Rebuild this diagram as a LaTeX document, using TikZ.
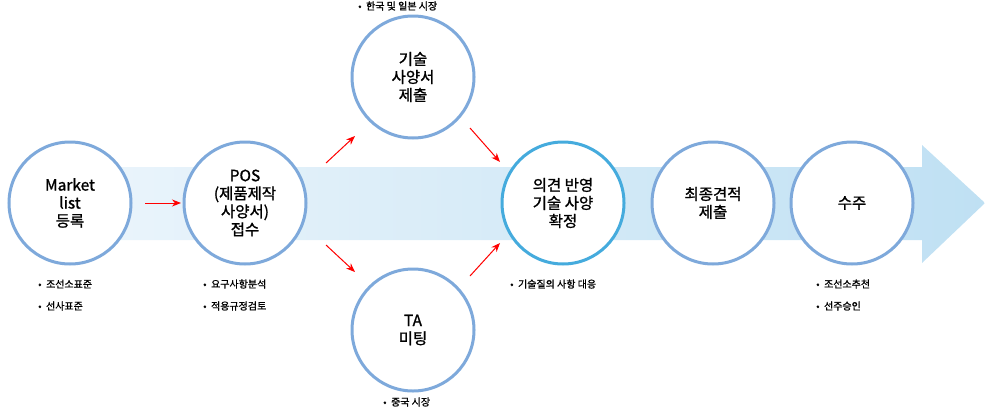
\documentclass[tikz,border=0pt]{standalone}
\usepackage{fontspec}
\setmainfont{Noto Sans CJK KR}[AutoFakeBold=1.2]
\usetikzlibrary{arrows.meta}
\definecolor{ring}{HTML}{7EA9DB}
\definecolor{ring2}{HTML}{45ABDD}
\definecolor{bandL}{HTML}{EEF6FC}
\definecolor{bandR}{HTML}{BFE0F3}
\tikzset{
 stage/.style={circle,draw=ring,line width=3pt,fill=white,minimum size=122pt,inner sep=0pt,align=center,font=\fontsize{15.5}{18}\selectfont\bfseries},
 note/.style={anchor=west,font=\fontsize{10}{12}\selectfont\bfseries,inner sep=0pt},
 red/.style={draw=red,line width=1pt,-{Stealth[length=9pt,width=7pt]}}
}
\begin{document}
\begin{tikzpicture}[x=1pt,y=-1pt]
\useasboundingbox (0,0) rectangle (985,410);
\shade[left color=bandL,right color=bandR] (20,167) -- (922,167) -- (922,145) -- (985,203) -- (922,263) -- (922,240) -- (20,240) -- cycle;
\node[stage] (a) at (70,203) {Market\\list\\등록};
\node[stage] (b) at (245,203) {POS\\(제품제작\\사양서)\\접수};
\node[stage] (c) at (413,77) {기술\\사양서\\제출};
\node[stage] (d) at (413,330) {TA\\미팅};
\node[stage,draw=ring2] (e) at (563,203) {의견 반영\\기술 사양\\확정};
\node[stage] (f) at (713,203) {최종견적\\제출};
\node[stage] (g) at (852,203) {수주};
\coordinate (a1) at (145,203); \coordinate (a2) at (181,203);
\coordinate (b1) at (326,163); \coordinate (b2) at (355,136);
\coordinate (c1) at (470,128); \coordinate (c2) at (500,162);
\coordinate (d1) at (326,245); \coordinate (d2) at (355,272);
\coordinate (e1) at (470,276); \coordinate (e2) at (500,243);
\draw[red] (a1)--(a2); \draw[red] (b1)--(b2); \draw[red] (c1)--(c2);
\draw[red] (d1)--(d2); \draw[red] (e1)--(e2);
\node[note] (n1) at (38,284) {•\ \ 조선소표준};
\node[note] (n2) at (38,306) {•\ \ 선사표준};
\node[note] (n3) at (203,284) {•\ \ 요구사항분석};
\node[note] (n4) at (203,306) {•\ \ 적용규정검토};
\node[note] (n5) at (358,6) {•\ \ 한국 및 일본 시장};
\node[note] (n6) at (383,402) {•\ \ 중국 시장};
\node[note] (n7) at (510,284) {•\ \ 기술질의 사항 대응};
\node[note] (n8) at (816,284) {•\ \ 조선소추천};
\node[note] (n9) at (816,306) {•\ \ 선주승인};
\end{tikzpicture}
\end{document}
